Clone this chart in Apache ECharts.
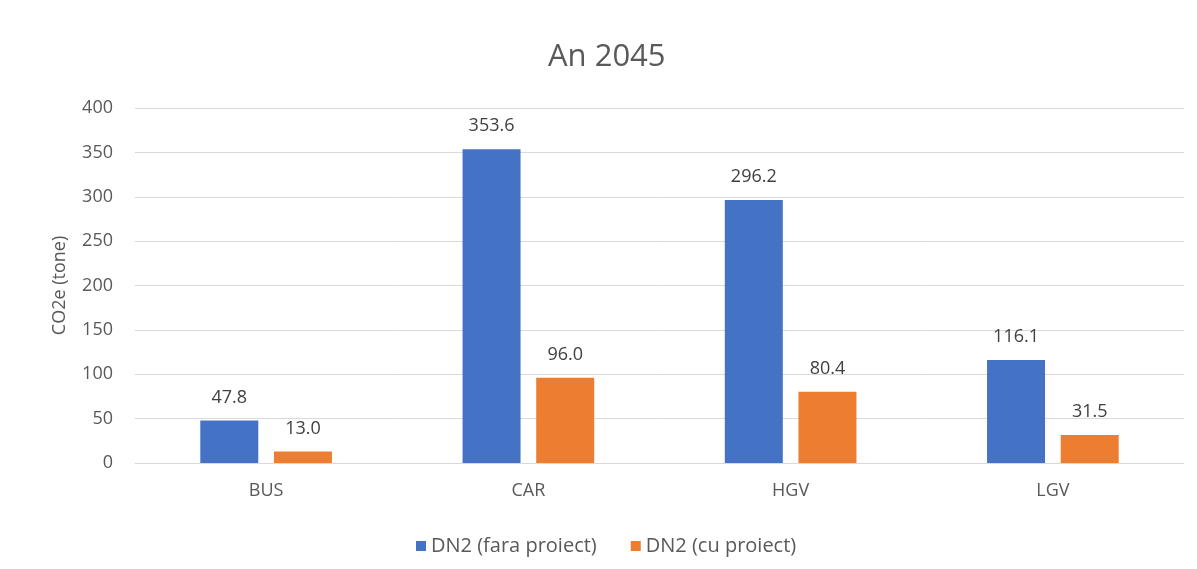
<!DOCTYPE html>
<html>
<head>
<meta charset="utf-8">
<script src="https://cdn.jsdelivr.net/npm/echarts@6/dist/echarts.min.js"></script>
<style>
  html, body { margin: 0; padding: 0; background: #fff; }
  #main { width: 1197px; height: 569px; }
</style>
</head>
<body>
<div id="main"></div>
<script>
// date
var categories = ['BUS', 'CAR', 'HGV', 'LGV'];
var faraProiect = [47.8, 353.6, 296.2, 116.1];
var cuProiect = [13.0, 96.0, 80.4, 31.5];
var yTicks = [0, 50, 100, 150, 200, 250, 300, 350, 400];

var font = 'Open Sans, Noto Sans, sans-serif';
var myChart = echarts.init(document.getElementById('main'));

function valLabel(p) { return p.value.toFixed(1); }

myChart.setOption({
    backgroundColor: '#fff',
    animation: false,
    title: {
        text: 'An 2045',
        left: 543,
        top: 37,
        textStyle: { fontFamily: font, fontSize: 31, fontWeight: 'normal', color: '#595959' }
    },
    legend: {
        bottom: 8,
        left: 411,
        itemWidth: 10,
        itemHeight: 10,
        itemGap: 34,
        icon: 'rect',
        textStyle: { fontFamily: font, fontSize: 20, color: '#595959' },
        data: ['DN2 (fara proiect)', 'DN2 (cu proiect)']
    },
    grid: { left: 135, right: 13, top: 108, bottom: 106 },
    xAxis: {
        type: 'category',
        data: categories,
        axisLine: { lineStyle: { color: '#d9d9d9' } },
        axisTick: { show: false },
        axisLabel: { fontFamily: font, fontSize: 18, color: '#595959', margin: 19 }
    },
    yAxis: {
        type: 'value',
        min: yTicks[0],
        max: yTicks[yTicks.length - 1],
        interval: yTicks[1] - yTicks[0],
        name: 'CO2e (tone)',
        nameLocation: 'middle',
        nameGap: 66,
        nameTextStyle: { fontFamily: font, fontSize: 18, color: '#595959' },
        axisLine: { show: false },
        axisTick: { show: false },
        axisLabel: { fontFamily: font, fontSize: 18, color: '#595959', margin: 22 },
        splitLine: { lineStyle: { color: '#d9d9d9' } }
    },
    series: [
        {
            name: 'DN2 (fara proiect)',
            type: 'bar',
            data: faraProiect,
            barWidth: 58,
            barGap: '27%',
            itemStyle: { color: '#4472C4' },
            label: {
                show: true, position: 'top', distance: 14,
                fontFamily: font, fontSize: 18, color: '#404040',
                formatter: valLabel
            }
        },
        {
            name: 'DN2 (cu proiect)',
            type: 'bar',
            data: cuProiect,
            barWidth: 58,
            itemStyle: { color: '#ED7D31' },
            label: {
                show: true, position: 'top', distance: 14,
                fontFamily: font, fontSize: 18, color: '#404040',
                formatter: valLabel
            }
        }
    ]
});
</script>
</body>
</html>
